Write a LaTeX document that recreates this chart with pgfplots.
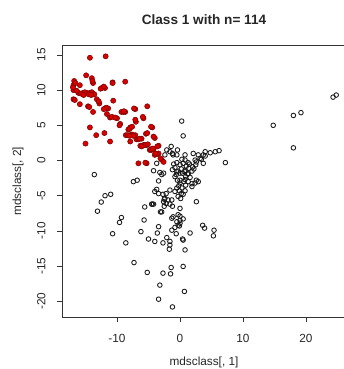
\documentclass[border=0pt]{standalone}
\usepackage{fontspec}
\setmainfont{Liberation Sans}
\usepackage{pgfplots}
\pgfplotsset{compat=1.18}
\begin{document}
\begin{tikzpicture}
\useasboundingbox (0,0) rectangle (344bp,369bp);
\begin{axis}[
  at={(62bp,52bp)}, anchor=south west,
  scale only axis, width=284bp, height=271.3bp,
  xmin=-18.73, xmax=26.35, ymin=-22.23, ymax=16.31,
  xtick={-10,0,10,20}, ytick={-20,-15,-10,-5,0,5,10,15},
  tick align=outside, tick pos=left,
  major tick length=5bp,
  tick style={line width=0.8bp, black!80},
  axis line style={line width=0.8bp, black!80},
  ticklabel style={font=\fontsize{11.8bp}{13bp}\selectfont, text=black!85},
  /pgf/number format/assume math mode=true,
  yticklabel style={rotate=90, anchor=south},
  xticklabel shift=9bp,
  yticklabel shift=8bp,
  title={Class 1 with n= 114},
  title style={at={(axis description cs:0.5,1.0745)}, anchor=center, font=\fontsize{13.6bp}{15bp}\selectfont\bfseries, text=black!85},
  xlabel={mdsclass[, 1]},
  xlabel style={at={(axis description cs:0.5,-0.166)}, anchor=center, font=\fontsize{11.8bp}{13bp}\selectfont, text=black!85},
  ylabel={mdsclass[, 2]},
  ylabel style={at={(axis description cs:-0.1549,0.5)}, anchor=center, font=\fontsize{11.8bp}{13bp}\selectfont, text=black!85},
  clip=true,
]
% other classes (open circles)
\addplot[only marks, mark=o, mark size=2.3bp, mark options={line width=0.85bp, draw=black!90}] coordinates {
(0.27,5.6) (0.5,3.5) (14.8,5.0) (18.0,6.4) (19.2,6.8) (18.0,1.8) (24.8,9.3) (24.3,9.0)
(-1.4,2.0) (-0.4,1.5) (-1.6,1.25) (-2.1,1.5) (-2.4,0.8) (-1.2,1.0) (-1.1,0.8) (-0.5,0.8)
(0.8,0.8) (2.1,1.0) (2.9,0.8) (4.0,1.25) (3.7,0.8) (4.8,1.1) (5.6,1.25) (6.2,1.4) (7.2,-0.3)
(4.0,0.64) (3.4,0.17) (2.4,0.07) (1.3,-0.3) (0.8,0.07) (0.3,0.17) (3.2,0.3) (2.6,-0.2) (3.7,-0.4)
(-1.0,-0.5) (-0.5,-0.3) (0,-0.6) (0.5,-0.4) (1.0,-0.8) (1.5,-0.5) (2.0,-0.9) (2.5,-0.6)
(-0.8,-1.0) (0.2,-1.2) (0.8,-1.4) (1.4,-1.1) (1.9,-1.5) (-0.3,-1.5) (0.4,-1.8) (1.2,-1.9)
(2.2,-1.2) (-1.2,-1.3) (-0.6,-2.0) (0.9,-2.3) (1.6,-2.4)
(-0.8,-2.3) (-0.4,-2.8) (0,-3.2) (-0.2,-3.6) (0.3,-3.9) (-0.1,-4.3) (0.2,-4.7) (-0.3,-5.1)
(0.1,-5.4) (-0.5,-3.9) (0.6,-3.0) (0.9,-3.5) (0.5,-4.8)
(-3.2,-1.7) (-2.6,-1.8) (-3.4,-2.9) (-3.7,-0.4) (-4.2,-1.45) (-2.9,-2.0)
(-0.5,-1.6) (0,-1.8) (0.8,-1.6) (1.3,-1.9) (0,-2.8) (0.8,-2.7) (1.3,-3.0) (2.4,-3.2)
(1.9,-3.7) (2.6,-2.8) (2.9,-3.0) (1.9,-3.3)
(-3.7,-4.1) (-3.4,-4.7) (-2.7,-4.8) (-2.2,-4.7) (-4.0,-4.4) (-1.6,-4.2) (-0.8,-4.4) (0.8,-4.3)
(-2.5,-5.5) (-1.9,-5.6) (-2.2,-6.1) (-1.6,-6.2) (-1.2,-6.5) (-2.5,-6.5) (-3.1,-7.3) (-2.4,-5.4)
(-2.6,-5.85) (-1.3,-5.6)
(0,-6.8) (2.6,-5.85) (-4.5,-6.2) (-4.2,-6.2) (-5.6,-6.6) (-2.9,-7.3)
(-1.1,-8.0) (-1.3,-8.2) (-0.3,-7.7) (0,-8.5) (0.5,-8.3) (-0.3,-9.2) (-0.8,-9.5) (-3.4,-9.4)
(3.6,-9.2) (3.9,-9.6) (5.4,-9.9) (5.3,-10.7)
(0,-7.9) (-0.5,-8.7) (0,-8.9) (-0.1,-9.3)
(-1.3,-9.9) (-0.6,-10.4) (1.6,-10.3) (0.4,-11.15) (0.5,-11.3) (0.8,-12.7)
(-3.6,-10.3) (-6.2,-10.1) (-4.0,-11.5) (-5.0,-11.15) (-2.7,-11.7) (-2.1,-10.95) (-1.6,-11.5)
(-1.6,-12.0) (-1.7,-12.6)
(-5.7,-8.45)
(-13.6,-2.0) (-7.4,-3.0) (-6.8,-2.8) (-11.9,-5.0) (-11.0,-4.8) (-12.5,-5.9) (-13.1,-7.2)
(-9.3,-8.1) (-9.6,-8.8) (-10.7,-10.4) (-8.6,-11.7) (-7.3,-14.5) (-5.2,-15.9) (-4.4,-6.2)
(-2.7,-16.0) (-1.4,-15.2) (-1.5,-16.1) (0.5,-15.05) (-3.2,-17.7) (-3.4,-19.7) (-1.2,-20.8) (0.7,-18.6)
};
% class 1 (red)
\addplot[only marks, mark=*, mark size=2.6bp, mark options={fill=red!85!black, draw=red!45!black, line width=0.5bp}] coordinates {
(-14.3,14.6) (-11.8,14.8) (-14.9,12.1) (-16.8,11.3) (-16.9,10.7) (-14.0,11.7) (-13.8,11.0)
(-10.7,11.1) (-8.7,11.2) (-15.9,10.7) (-16.9,10.0) (-16.1,9.6) (-15.4,9.6) (-14.8,9.6)
(-14.3,9.6) (-13.8,9.5) (-12.4,10.3) (-11.9,10.3) (-16.9,8.7) (-15.9,8.0) (-13.2,8.7)
(-12.8,8.1) (-10.6,8.5) (-14.6,7.7) (-13.8,6.9) (-11.9,7.4) (-11.4,7.4) (-11.6,6.6)
(-11.1,6.1) (-10.0,6.0) (-9.3,6.9) (-8.7,6.9) (-9.5,5.2) (-7.1,7.3) (-5.2,7.7) (-5.8,6.0)
(-7.0,5.5) (-8.2,4.4) (-7.9,4.7) (-14.3,4.7) (-13.3,3.6) (-12.0,3.9) (-11.1,2.7) (-15.0,2.4)
(-8.6,3.6) (-7.9,3.6) (-7.1,3.6) (-6.9,3.0) (-6.1,3.1) (-5.4,3.8) (-4.4,4.7) (-4.0,3.2)
(-7.9,2.7) (-6.3,2.1) (-5.8,2.2) (-5.3,2.2) (-3.4,2.1) (-4.8,1.5) (-4.2,1.6) (-4.0,0.8)
(-3.4,1.0) (-6.6,-0.4) (-5.3,-0.4) (-2.9,0.1) (-2.6,-0.2)
(-15.7,9.5) (-15.1,9.7) (-14.5,9.4) (-14.0,9.7) (-13.6,9.4) (-15.3,9.3) (-14.1,9.3) (-16.4,9.9)
(-17.0,10.4) (-16.6,11.0) (-13.9,11.3) (-12.6,10.2) (-12.1,10.5) (-11.7,7.5) (-12.1,7.3)
(-9.0,6.9) (-8.9,7.0) (-10.8,6.2) (-8.0,4.5) (-7.6,4.8) (-8.3,3.6) (-7.6,3.7) (-7.4,3.5)
(-8.0,3.5) (-6.6,3.0) (-6.4,3.1) (-6.0,2.1) (-5.6,2.2) (-5.1,2.3) (-6.1,2.0) (-4.5,1.5)
(-4.6,1.6) (-4.3,1.7) (-3.7,0.9) (-3.9,1.0) (-5.2,3.9) (-4.2,3.4) (-7.3,7.4) (-5.9,6.2)
(-7.1,5.8) (-9.6,5.0) (-10.3,6.1) (-14.4,7.6) (-12.9,8.4) (-3.6,2.0) (-3.1,0.3) (-16.7,8.6)
(-5.5,-0.3) (-4.6,4.8) (-10.7,11.0)
};
\end{axis}
\end{tikzpicture}
\end{document}
